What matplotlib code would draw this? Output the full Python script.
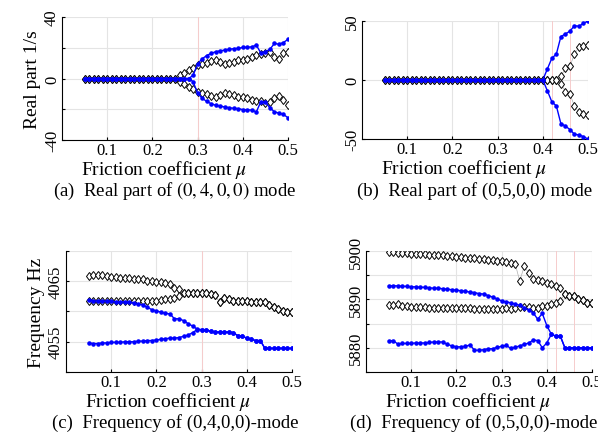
import numpy as np
import matplotlib
matplotlib.use("Agg")
import matplotlib.pyplot as plt

plt.rcParams['font.family'] = ['Liberation Serif', 'DejaVu Serif']
plt.rcParams['mathtext.fontset'] = 'stix'

# friction coefficient samples
mu = np.round(np.linspace(0.05, 0.5, 46), 2)

# (a) real part, (0,4,0,0) mode
re4_blk_up = [0]*21 + [2, 3.6, 5.3, 6.8, 8.5, 9.2, 10, 11.3, 12, 10.5, 9.5, 10, 11, 12, 12.3,
                       13, 14, 15, 16, 16.4, 17, 14, 12.8, 16.4, 17]
re4_blk_lo = [0]*21 + [-2, -3.6, -5.3, -6.8, -8.5, -9.2, -10, -11.3, -12, -10.5, -9.5, -10, -11, -12, -12.3,
                       -13, -14, -14.5, -14.4, -16, -15, -13, -11.5, -14, -17]
re4_blu_up = [0]*24 + [2, 9.5, 12.8, 14.9, 16.4, 17.4, 18, 18.5, 19, 19.4, 19.6, 20.2,
                       20.3, 20.6, 21.7, 16.5, 17.5, 19, 22.8, 22.3, 23.4, 25.5]
re4_blu_lo = [0]*24 + [-2, -9.5, -12.8, -14.9, -16.4, -17.4, -18, -18.5, -19, -19.4, -19.6, -20.2,
                       -20.3, -20.6, -21.7, -15, -15.5, -19, -21.7, -22.5, -23.4, -25.5]

# (b) real part, (0,5,0,0) mode
re5_blk_up = [0]*39 + [3, 10, 11.6, 22, 27.8, 28.6, 30]
re5_blk_lo = [0]*39 + [-3, -10, -12, -22, -27.5, -29, -30]
re5_blu_up = [0]*36 + [9.3, 18.4, 22, 36.8, 39, 41.4, 46, 45.6, 48, 50]
re5_blu_lo = [0]*36 + [-9, -18.5, -22, -37, -39, -42, -46, -46.5, -48, -50]

# (c) frequency, (0,4,0,0) mode
f4_blk_up = [4065.9, 4066.0, 4066.0, 4066.0, 4065.8, 4065.7, 4065.7, 4065.6, 4065.6, 4065.5,
             4065.4, 4065.3, 4065.3, 4065.1, 4065.0, 4064.9, 4064.8, 4064.7, 4064.5, 4063.9,
             4063.7, 4063.1, 4063.0, 4063.0, 4063.0, 4063.0, 4063.0, 4062.9, 4062.7, 4061.5,
             4062.2, 4062.0, 4061.8, 4061.7, 4061.7, 4061.7, 4061.6, 4061.6, 4061.5, 4061.5,
             4061.1, 4060.8, 4060.4, 4060.1, 4059.9, 4059.9]
f4_blk_lo = [4061.8, 4061.8, 4061.8, 4061.8, 4061.8, 4061.8, 4061.8, 4061.8, 4061.8, 4061.8,
             4061.8, 4061.8, 4061.8, 4061.8, 4061.8, 4061.8, 4061.9, 4062.0, 4062.1, 4062.3,
             4062.6] + f4_blk_up[21:]
f4_blu_up = [4061.9, 4061.8, 4061.7, 4061.7, 4061.7, 4061.7, 4061.6, 4061.6, 4061.6, 4061.6,
             4061.4, 4061.2, 4061.1, 4060.7, 4060.3, 4060.1, 4059.9, 4059.7, 4059.6, 4058.8,
             4058.8, 4058.5, 4058.0, 4057.6, 4057.1, 4057.0, 4057.0, 4056.7, 4056.6, 4056.6,
             4056.6, 4056.6, 4056.5, 4056.0, 4055.9, 4055.6, 4055.4, 4055.2, 4055.2, 4053.9,
             4053.9, 4053.9, 4053.9, 4053.9, 4053.9, 4053.9]
f4_blu_lo = [4054.8, 4054.7, 4054.7, 4054.8, 4054.8, 4054.9, 4054.9, 4054.9, 4055.0, 4055.0,
             4055.0, 4055.1, 4055.1, 4055.2, 4055.2, 4055.3, 4055.4, 4055.5, 4055.6, 4055.6,
             4055.7, 4055.9, 4056.1, 4056.5, 4057.0] + f4_blu_up[25:]

# (d) frequency, (0,5,0,0) mode
f5_blk_up = [5899.7, 5899.7, 5899.6, 5899.6, 5899.5, 5899.4, 5899.4, 5899.3, 5899.3, 5899.2,
             5899.2, 5899.1, 5899.1, 5899.0, 5898.9, 5898.8, 5898.7, 5898.6, 5898.5, 5898.5,
             5898.4, 5898.3, 5898.2, 5898.1, 5898.0, 5897.9, 5897.8, 5897.6, 5897.4, 5893.8,
             5896.8, 5895.5, 5894.3, 5894.1, 5893.8, 5893.4, 5893.2, 5892.8, 5892.3, 5891.2,
             5890.7, 5890.6, 5890.0, 5889.8, 5889.3, 5889.3]
f5_blk_lo = [5888.8, 5888.9, 5889.0, 5888.6, 5888.6, 5888.5, 5888.4, 5888.4, 5888.4, 5888.3,
             5888.3, 5888.3, 5888.3, 5888.3, 5888.3, 5888.3, 5888.2, 5888.2, 5888.2, 5888.1,
             5888.1, 5888.1, 5888.1, 5888.1, 5888.1, 5888.1, 5888.2, 5888.1, 5888.2, 5888.4,
             5888.5, 5888.5, 5888.3, 5888.3, 5888.6, 5888.7, 5889.1, 5889.3, 5889.7] + f5_blk_up[39:]
f5_blu_up = [5892.8, 5892.8, 5892.8, 5892.7, 5892.7, 5892.6, 5892.6, 5892.5, 5892.5, 5892.4,
             5892.3, 5892.3, 5892.2, 5892.1, 5892.0, 5891.9, 5891.8, 5891.7, 5891.5, 5891.4,
             5891.2, 5891.1, 5890.8, 5890.5, 5890.1, 5889.7, 5889.5, 5889.3, 5889.0, 5888.8,
             5888.3, 5887.8, 5887.2, 5885.9, 5887.1, 5884.6, 5882.8, 5882.4, 5882.4, 5880.0,
             5880.0, 5880.0, 5880.0, 5880.0, 5880.0, 5880.0]
f5_blu_lo = [5881.4, 5881.5, 5880.8, 5880.9, 5880.9, 5880.9, 5881.0, 5881.0, 5881.0, 5881.1,
             5881.2, 5881.2, 5881.2, 5880.7, 5880.4, 5880.2, 5880.2, 5880.3, 5880.6, 5879.5,
             5879.5, 5879.6, 5879.8, 5879.8, 5880.1, 5880.3, 5880.5, 5879.9, 5880.1, 5880.4,
             5880.7, 5881.0, 5881.6, 5881.5, 5880.0, 5881.0] + f5_blu_up[36:]

W, H = 598, 435
fig = plt.figure(figsize=(W/100, H/100), dpi=100)

def ftext(x, y, s, size=13.5):
    # place text by pixel position from the top-left corner
    fig.text(x/W, 1 - y/H, s, ha='center', va='center', fontsize=size)

def make_ax(l, t, r, b):
    ax = fig.add_axes([l/W, 1 - b/H, (r - l)/W, (b - t)/H])
    for s in ['top', 'right']:
        ax.spines[s].set_visible(False)
    ax.grid(True, color='#e4e4e4', lw=0.8)
    ax.set_axisbelow(True)
    ax.tick_params(direction='in', length=2, labelsize=12, pad=1.5)
    ax.set_xlim(0, 0.5)
    ax.set_xticks([0.1, 0.2, 0.3, 0.4, 0.5])
    ax.set_xticklabels(['0.1', '0.2', '0.3', '0.4', '0.5'])
    ftext((l + r)/2 - 11, b + 29, r'Friction coefficient $\mu$', 14)
    return ax

def draw(ax, blk, blu, marks):
    for xm in marks:
        ax.axvline(xm, color='#f6cccc', lw=0.7, zorder=1)
    for y in blk:
        ax.plot(mu, y, '-', color='#b0b0b0', lw=0.5, zorder=2)
        ax.plot(mu, y, 'd', mfc='white', mec='black', ms=4.5, mew=0.7, zorder=3)
    for y in blu:
        ax.plot(mu, y, '.-', color='blue', lw=1.0, ms=4.5, zorder=4)

def yticks(ax, ticks, labels):
    ax.set_yticks(ticks)
    ax.set_yticklabels(labels, rotation=90, va='center')

# (a)
ax = make_ax(62, 18, 288, 141)
draw(ax, [re4_blk_up, re4_blk_lo], [re4_blu_up, re4_blu_lo], [0.3])
ax.set_ylim(-40, 40)
yticks(ax, [-40, -20, 0, 20, 40], ['-40', '', '0', '', '40'])
ax.set_ylabel('Real part 1/s', fontsize=14, labelpad=2)
ftext(175, 191, r'(a)  Real part of $(0,4,0,0)$ mode')

# (b)
ax = make_ax(362, 22, 588, 140)
draw(ax, [re5_blk_up, re5_blk_lo], [re5_blu_up, re5_blu_lo], [0.42, 0.46])
ax.set_ylim(-50, 50)
yticks(ax, [-50, 0, 50], ['-50', '0', '50'])
ftext(475, 191, '(b)  Real part of (0,5,0,0) mode')

# (c)
ax = make_ax(66, 252, 292, 373)
draw(ax, [f4_blk_up, f4_blk_lo], [f4_blu_up, f4_blu_lo], [0.3])
ax.set_ylim(4050, 4070)
yticks(ax, [4050, 4055, 4060, 4065, 4070], ['', '4055', '', '4065', ''])
ax.set_ylabel('Frequency Hz', fontsize=14, labelpad=2)
ftext(175, 423, '(c)  Frequency of (0,4,0,0)-mode')

# (d)
ax = make_ax(366, 252, 592, 373)
draw(ax, [f5_blk_up, f5_blk_lo], [f5_blu_up, f5_blu_lo], [0.42, 0.46])
ax.set_ylim(5875, 5900)
yticks(ax, [5875, 5880, 5885, 5890, 5895, 5900], ['', '5880', '', '5890', '', '5900'])
ftext(474, 423, '(d)  Frequency of (0,5,0,0)-mode')

fig.savefig('out.png', dpi=100)
